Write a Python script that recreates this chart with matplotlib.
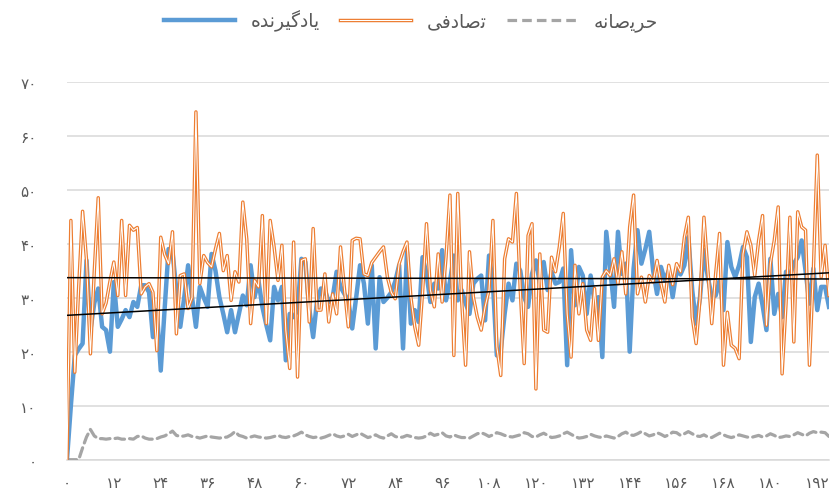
import numpy as np
import matplotlib
matplotlib.use("Agg")
import matplotlib.pyplot as plt
from matplotlib.lines import Line2D

# series (one value per step, 0..195)
learner = [0, 10, 19.3, 20.5, 21.5, 36.9, 24, 29, 31.7, 24.6,
           24, 20, 32.9, 24.6, 26, 27.7, 26.4, 29.2, 28.3, 32.3,
           32.3, 31, 22.7, 27.7, 16.5, 28, 39, 38.5, 31.4, 24.6,
           30, 36, 30.1, 24.6, 32, 30, 28.3, 38.1, 35, 30.1,
           27, 23.6, 27.7, 23.6, 27, 30.4, 28.6, 36, 30.1, 33.2,
           28.3, 25, 22.1, 32, 29.5, 32, 18.4, 27, 26.4, 27.7,
           37.2, 36.6, 28, 22.7, 29.5, 31.7, 31.4, 29.2, 30.1, 34.8,
           32, 30.7, 29.5, 24.3, 30, 36, 32.6, 25.2, 36, 20.6,
           33.8, 29.2, 30, 31, 33, 36, 20.6, 38.5, 25.2, 27.7,
           25.5, 37.5, 34.4, 29.2, 32.6, 31.7, 38.8, 29.5, 33, 37.8,
           29.5, 31.4, 29, 27, 32.6, 33.5, 34.1, 25.8, 37.8, 32.6,
           19.3, 20.2, 27, 32.6, 29.5, 36.3, 35, 30.1, 28.3, 34.4,
           36.9, 32.6, 36.6, 31.4, 34.8, 32.6, 32.9, 35.4, 17.5, 38.8,
           28.6, 35.7, 34.1, 27, 34.1, 29.2, 30.1, 19, 42.2, 35.4,
           28.3, 42.2, 34.4, 36.3, 20, 35.4, 42.5, 36.3, 39, 42.2,
           35, 30.7, 35.7, 33.2, 35, 30.1, 35, 34.3, 36, 41.2,
           31.4, 25.2, 30.1, 38.8, 33.8, 30.1, 30.4, 33.2, 27.7, 40.3,
           35.7, 33.8, 36, 39.4, 37.5, 21.8, 30.1, 32.6, 28.6, 24,
           37.2, 27, 30.7, 26.4, 34.8, 34.1, 36.3, 37.5, 40.6, 35,
           28.9, 35.4, 27.7, 32, 32, 28.3]

random_pick = [0, 44.3, 16.2, 32, 46, 37, 19.6, 35, 48.5, 27,
               29, 33, 36.6, 30.4, 44.3, 30.4, 43.4, 42.5, 43, 30.7,
               32, 32.6, 31, 20.2, 41.2, 38, 36.3, 42.2, 23.3, 34.1,
               34.4, 28, 30, 64.4, 32.6, 37.8, 36.5, 35.7, 39, 41.9,
               35, 37.8, 29.5, 34.8, 32.9, 47.7, 40.9, 25.2, 33.2, 32,
               45.2, 25.2, 44.3, 39.4, 33.2, 39.7, 24, 16.9, 40.3, 15.3,
               36.9, 37.2, 25.5, 42.8, 27.7, 27.7, 34.4, 25.5, 30.7, 27,
               39.4, 31.7, 24.6, 40.6, 41, 40.9, 34.4, 34.1, 36.5, 37.5,
               38.5, 39.4, 33.8, 31, 29.8, 36.3, 38.5, 40.3, 30.1, 24.6,
               21.2, 31, 43.7, 31.4, 28.3, 38.1, 29.2, 37.5, 49, 19.3,
               49.3, 29.5, 17.5, 38.5, 30.1, 26.4, 24, 28.3, 31.4, 44.3,
               20.9, 15.6, 37.2, 40.9, 40.3, 49.3, 31.4, 17.8, 41.5, 43.7,
               13.1, 38.1, 24, 23.6, 37.5, 34.8, 39.4, 45.6, 27, 19,
               36, 27, 32.6, 24, 22.1, 31.7, 22.1, 33.8, 35, 34.1,
               37.2, 32.6, 38.5, 30.7, 43.1, 49, 30.7, 33.8, 29.2, 34.1,
               32.9, 36.9, 32.6, 29.2, 36, 32.4, 36.3, 34.8, 41.2, 44.9,
               26.4, 21.5, 29.8, 44.9, 35, 25.2, 34.4, 41.9, 17.5, 27.3,
               21.2, 20.6, 18.7, 38.1, 42.2, 39.7, 34.1, 40.6, 45.2, 24.9,
               36.3, 40.6, 46.8, 15.9, 28.9, 44.9, 21.8, 45.9, 43.1, 42.5,
               17.5, 35, 56.4, 33.8, 39.7, 30.4]

greedy = [0, 0, 0, 0, 2.2, 4.2, 5.6, 4.4, 3.9, 3.9,
          3.8, 3.9, 3.9, 4.0, 3.8, 3.8, 3.9, 3.8, 4.3, 4.4,
          4.0, 3.8, 3.8, 3.9, 4.2, 4.4, 4.8, 5.3, 4.5, 4.3,
          4.4, 4.6, 4.3, 4.2, 4.0, 4.2, 4.4, 4.2, 4.1, 4.0,
          4.1, 4.2, 4.6, 5.2, 4.5, 4.3, 4.0, 4.2, 4.4, 4.2,
          4.1, 4.0, 4.1, 4.3, 4.5, 4.2, 4.1, 4.3, 4.4, 4.7,
          5.1, 4.6, 4.3, 4.1, 4.2, 4.0, 4.2, 4.5, 4.8, 4.4,
          4.2, 4.4, 4.7, 4.3, 4.6, 4.9, 4.5, 4.1, 4.3, 4.6,
          4.2, 4.0, 4.4, 4.8, 4.3, 4.1, 4.2, 4.5, 4.3, 4.1,
          4.0, 4.1, 4.4, 4.9, 4.5, 4.7, 5.0, 4.4, 4.2, 4.6,
          4.3, 4.1, 4.1, 4.0, 4.4, 4.8, 5.0, 4.7, 4.3, 4.6,
          5.0, 4.8, 4.5, 4.3, 4.2, 4.4, 4.6, 5.0, 4.8, 4.3,
          4.2, 4.6, 4.9, 4.5, 4.1, 4.2, 4.4, 4.8, 5.1, 4.7,
          4.3, 4.0, 4.1, 4.3, 4.7, 4.4, 4.2, 4.1, 4.4, 4.2,
          4.0, 4.3, 4.8, 5.1, 4.6, 4.5, 4.8, 5.2, 4.8, 4.4,
          4.6, 5.0, 4.7, 4.3, 4.6, 5.1, 5.0, 4.5, 4.8, 5.2,
          4.8, 4.4, 4.3, 4.6, 4.2, 4.1, 4.5, 4.9, 4.6, 4.3,
          4.1, 4.3, 4.6, 4.4, 4.2, 4.1, 4.3, 4.5, 4.2, 4.4,
          4.8, 4.5, 4.1, 4.2, 4.4, 4.3, 4.6, 5.0, 4.7, 4.4,
          4.9, 5.2, 5.0, 5.1, 5.0, 4.3]

# legend labels, already shaped and in visual (right-to-left) order
learner_label = "\ufee9\ufeaa\ufee7\ufeae\ufbff\ufb94\ufea9\ufe8e\ufbfe"   # یادگیرنده
random_label = "\ufbfd\ufed3\ufea9\ufe8e\ufebb\ufe97"                      # تصادفی
greedy_label = "\ufeea\ufee7\ufe8e\ufebb\ufbfe\ufeae\ufea3"                # حریصانه

y_ticks = [0, 10, 20, 30, 40, 50, 60, 70]
y_tick_labels = ["۰", "۱۰", "۲۰", "۳۰", "۴۰", "۵۰", "۶۰", "۷۰"]
x_ticks = list(range(0, 193, 12))
x_tick_labels = ["۰", "۱۲", "۲۴", "۳۶", "۴۸", "۶۰", "۷۲", "۸۴", "۹۶",
                 "۱۰۸", "۱۲۰", "۱۳۲", "۱۴۴", "۱۵۶", "۱۶۸", "۱۸۰", "۱۹۲"]

BLUE = "#5B9BD5"
ORANGE = "#ED7D31"
GRAY = "#A5A5A5"
TEXT = "#595959"

x = np.arange(len(learner))

fig = plt.figure(figsize=(8.35, 5.02), dpi=100)
ax = fig.add_axes([0.0802, 0.0823, 0.9126, 0.753])

ax.plot(x, greedy, color=GRAY, lw=2.3, dashes=(3, 1.6), zorder=3,
        solid_capstyle="round", dash_capstyle="round")
ax.plot(x, learner, color=BLUE, lw=3.2, zorder=4, solid_joinstyle="round")
ax.plot(x, random_pick, color=ORANGE, lw=2.5, zorder=5, solid_joinstyle="round")
ax.plot(x, random_pick, color="white", lw=0.75, zorder=6, solid_joinstyle="round")

# linear trend lines, as excel draws them
for series in (learner, random_pick):
    k, b = np.polyfit(x, series, 1)
    ax.plot(x, k * x + b, color="black", lw=1.1, zorder=7)

ax.set_xlim(0, len(x) - 1)
ax.set_ylim(0, 70)
ax.set_yticks(y_ticks)
ax.set_yticklabels(y_tick_labels)
ax.set_xticks(x_ticks)
ax.set_xticklabels(x_tick_labels)
ax.grid(axis="y", color="#D9D9D9", lw=1.1)
ax.set_axisbelow(True)
for side in ("top", "right", "left"):
    ax.spines[side].set_visible(False)
ax.spines["bottom"].set_color("#D9D9D9")
ax.spines["bottom"].set_linewidth(1.1)
ax.tick_params(length=0, colors=TEXT, labelsize=11)
ax.tick_params(axis="y", pad=22)
ax.tick_params(axis="x", pad=11)

handles = [Line2D([], [], color=BLUE, lw=3.2),
           (Line2D([], [], color=ORANGE, lw=2.5), Line2D([], [], color="white", lw=0.75)),
           Line2D([], [], color=GRAY, lw=2.3, dashes=(3, 1.6))]
fig.legend(handles, [learner_label, random_label, greedy_label],
           loc="center", bbox_to_anchor=(0.492, 0.958), ncol=3, frameon=False,
           fontsize=13.5, handlelength=3.8, handletextpad=0.8, columnspacing=1.1,
           labelcolor=TEXT)

fig.savefig("out.png", dpi=100)
